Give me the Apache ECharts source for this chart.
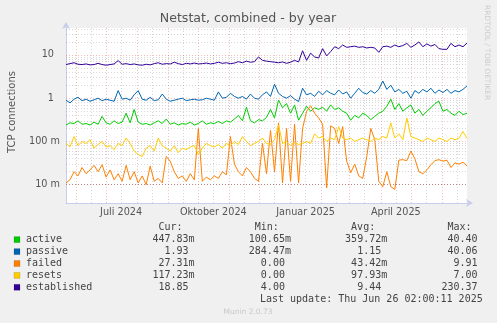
<!DOCTYPE html>
<html><head><meta charset="utf-8">
<script src="https://cdn.jsdelivr.net/npm/echarts@6/dist/echarts.min.js"></script>
<style>html,body{margin:0;padding:0;background:#f0f0f0}#c{width:497px;height:323px}</style>
</head><body><div id="c"></div>
<script>
// ---- data (one sample every 4 days, 2024-05-22 .. 2025-06-26) ----
const seriesNames = ['active','passive','failed','resets','established'];
const seriesColors = ['#00CC00','#0066B3','#FF8000','#FFCC00','#330099'];
const active = [0.24,0.27,0.26,0.3,0.25,0.26,0.24,0.28,0.25,0.38,0.27,0.25,0.3,0.26,0.28,0.45,0.27,0.55,0.28,0.25,
0.26,0.24,0.27,0.3,0.26,0.33,0.25,0.27,0.24,0.26,0.25,0.28,0.24,0.26,0.3,0.25,0.27,0.26,0.29,0.26,
0.3,0.28,0.33,0.4,0.3,0.62,0.3,0.27,0.32,0.3,0.36,0.55,0.35,0.9,0.6,0.75,0.45,0.7,0.31,0.45,
0.65,0.5,0.6,0.55,0.62,0.5,0.7,0.55,0.6,0.5,0.45,0.31,0.4,0.35,0.45,0.4,0.32,0.38,0.45,0.5,
0.65,0.95,0.55,0.75,0.5,0.6,0.7,0.45,0.55,0.4,0.5,0.6,0.75,0.85,0.5,0.55,0.45,0.4,0.5,0.42,0.448];
const passive = [0.9,0.78,0.95,1.05,0.88,0.95,0.85,0.92,1.0,0.88,0.95,0.9,0.85,1.5,0.95,1.0,0.9,1.2,1.5,0.95,
0.9,1.05,0.88,0.92,1.25,0.95,0.85,0.9,0.95,1.0,0.88,0.92,0.95,0.9,0.92,1.0,0.95,0.9,1.4,1.0,
1.05,1.3,1.1,1.0,1.1,0.95,1.25,1.0,0.95,1.2,1.4,1.1,2.1,1.3,1.1,1.0,1.15,0.95,0.84,1.7,
1.2,1.3,1.1,1.45,1.2,1.5,1.3,1.2,1.55,1.25,1.4,1.0,1.3,1.7,1.35,1.25,1.5,1.3,1.6,2.5,
1.6,2.0,1.4,1.6,1.3,1.45,1.0,1.5,1.3,1.6,1.4,1.7,1.3,1.55,1.35,1.6,1.3,1.5,1.4,1.6,1.93];
const failed = [0.011,0.013,0.02,0.016,0.025,0.018,0.022,0.028,0.02,0.029,0.015,0.022,0.013,0.018,0.012,0.028,0.013,0.02,0.011,0.016,
0.01,0.027,0.012,0.014,0.011,0.045,0.035,0.02,0.014,0.016,0.012,0.018,0.013,0.2,0.012,0.015,0.013,0.016,0.014,0.02,
0.017,0.13,0.03,0.02,0.016,0.025,0.02,0.014,0.012,0.09,0.018,0.18,0.02,0.27,0.011,0.2,0.012,0.25,0.011,0.2,
0.5,0.67,0.45,0.35,0.25,0.0084,0.23,0.2,0.09,0.22,0.035,0.019,0.03,0.016,0.014,0.045,0.2,0.11,0.012,0.009,
0.02,0.009,0.0078,0.037,0.038,0.036,0.06,0.04,0.02,0.018,0.022,0.029,0.036,0.038,0.035,0.037,0.025,0.032,0.03,0.033,0.0273];
const resets = [0.09,0.075,0.13,0.08,0.1,0.09,0.11,0.07,0.085,0.1,0.075,0.08,0.065,0.09,0.08,0.12,0.09,0.06,0.05,0.045,
0.07,0.08,0.06,0.12,0.08,0.07,0.06,0.08,0.055,0.07,0.065,0.075,0.08,0.05,0.07,0.09,0.08,0.075,0.085,0.07,
0.09,0.08,0.1,0.085,0.13,0.1,0.08,0.09,0.1,0.12,0.09,0.085,0.11,0.24,0.09,0.1,0.08,0.095,0.085,0.09,
0.1,0.09,0.15,0.12,0.13,0.1,0.12,0.11,0.22,0.12,0.11,0.12,0.1,0.11,0.12,0.11,0.1,0.12,0.11,0.13,
0.12,0.27,0.12,0.15,0.11,0.35,0.13,0.12,0.11,0.1,0.12,0.11,0.1,0.12,0.11,0.1,0.12,0.11,0.12,0.17,0.117];
const established = [6.0,6.3,6.6,6.1,6.0,6.2,5.9,6.0,6.4,6.0,5.8,6.0,6.2,7.4,6.1,6.3,6.0,6.2,5.9,5.8,
6.1,5.9,6.3,6.6,6.1,6.3,6.2,6.8,6.3,6.0,6.4,6.2,6.5,6.2,6.3,6.5,6.2,6.4,6.8,6.4,
6.6,6.3,6.5,7.0,6.6,7.2,6.8,7.0,9.0,7.5,7.2,7.0,6.8,6.6,6.9,6.4,6.8,7.5,6.9,12.5,
7.5,11.0,9.0,8.5,14.0,9.5,12.0,15.5,14.0,17.0,15.0,15.5,16.0,15.0,15.5,14.5,15.0,14.5,11.5,15.5,
16.0,15.0,17.0,15.5,16.5,18.5,15.0,17.0,20.0,15.5,18.0,16.0,17.5,14.0,13.5,13.5,18.5,15.5,17.0,15.5,18.85];
const allValues = [active, passive, failed, resets, established];

// legend table
const colHeaders = ['Cur:','Min:','Avg:','Max:'];
const statCur = ['447.83m','1.93','27.31m','117.23m','18.85'];
const statMin = ['100.65m','284.47m','0.00','0.00','4.00'];
const statAvg = ['359.72m','1.15','43.42m','97.93m','9.44'];
const statMax = ['40.40','40.06','9.91','7.00','230.37'];
const stats = [statCur, statMin, statAvg, statMax];

// axis labels
const xLabelDates = ['2024-07-16','2024-10-16','2025-01-16','2025-04-16'];
const xLabelTexts = ['Juli 2024','Oktober 2024','Januar 2025','April 2025'];
const yTickExp = [-2,-1,0,1];
const yTickTexts = ['10 m','100 m','1','10'];

const title = 'Netstat, combined - by year';
const yName = 'TCP connections';
const lastUpdate = 'Last update: Thu Jun 26 02:00:11 2025';
const footer = 'Munin 2.0.73';
const sideText = 'RRDTOOL / TOBI OETIKER';

// ---- build ----
const DAY = 86400000;
const tStart = Date.UTC(2024,4,22);
const tEnd = Date.UTC(2025,5,26);
const STEP = 4;
const toTs = s => { const p = s.split('-').map(Number); return Date.UTC(p[0], p[1]-1, p[2]); };
const xLabelTs = xLabelDates.map(toTs);

// grid lines
const major = {color:'rgba(230,100,100,0.42)', type:[1,2], width:1};
const minor = {color:'rgba(150,150,150,0.38)', type:[1,2], width:1};
const gridMarks = [];
for (let m = 0; m < 13; m++) {
  const y = 2024 + Math.floor((5 + m) / 12), mo = (5 + m) % 12;
  gridMarks.push({xAxis: Date.UTC(y, mo, 1), lineStyle: major});
  const mid = Date.UTC(y, mo, 16);
  if (mid < tEnd) gridMarks.push({xAxis: mid, lineStyle: minor});
}
for (let e = -3; e <= 1; e++) {
  for (let k = 1; k <= 9; k++) {
    const v = k * Math.pow(10, e);
    if (v < 0.00378 || v > 42) continue;
    gridMarks.push({yAxis: v, lineStyle: k === 1 ? major : minor});
  }
}

const series = [{
  type:'line', data:[], z:1, silent:true,
  markLine:{silent:true, symbol:'none', z:1, animation:false, label:{show:false}, data:gridMarks}
}];
seriesNames.forEach((n, si) => {
  series.push({
    name:n, type:'line', z:3 + si, showSymbol:false, symbol:'none', silent:true,
    lineStyle:{color:seriesColors[si], width:1}, itemStyle:{color:seriesColors[si]},
    data: allValues[si].map((v, i) => [tStart + i * STEP * DAY, v])
  });
});

const axisCol = '#c7cdea';
const mono = '10px "DejaVu Sans Mono"';
const graphic = [];
graphic.push({type:'text', x:248, y:19, style:{text:title, font:'12.6px "DejaVu Sans"', fill:'#555', align:'center', verticalAlign:'middle'}});
graphic.push({type:'text', x:12, y:112, rotation:Math.PI/2, style:{text:yName, font:'10px "DejaVu Sans"', fill:'#555', align:'center', verticalAlign:'middle'}});
graphic.push({type:'text', x:487, y:5, rotation:-Math.PI/2, style:{text:sideText, font:'7.4px "DejaVu Sans"', fill:'#cccccc', align:'left', verticalAlign:'middle'}});
const colStart = [152.5, 248.8, 345.1, 441.4];
const rowY = [239.6, 251.6, 263.5, 275.4, 287.3];
colHeaders.forEach((h, c) => graphic.push({type:'text', x:colStart[c] + 6, y:227, style:{text:h, font:mono, fill:'#444', verticalAlign:'middle'}}));
seriesNames.forEach((n, r) => {
  graphic.push({type:'rect', x:14, y:rowY[r] - 3, shape:{width:6, height:6}, style:{fill:seriesColors[r], stroke:'rgba(0,0,0,0.25)', lineWidth:0.5}});
  graphic.push({type:'text', x:26, y:rowY[r], style:{text:n, font:mono, fill:'#444', verticalAlign:'middle'}});
  stats.forEach((col, c) => {
    let s = col[r];
    if (!/[a-zA-Z]$/.test(s)) s = s + ' ';
    s = s.padStart(7, ' ');
    graphic.push({type:'text', x:colStart[c], y:rowY[r], style:{text:s, font:mono, fill:'#444', verticalAlign:'middle'}});
  });
});
graphic.push({type:'text', x:482.7, y:299.5, style:{text:lastUpdate, font:mono, fill:'#444', align:'right', verticalAlign:'middle'}});
graphic.push({type:'text', x:248, y:311.8, style:{text:footer, font:'7.5px "DejaVu Sans"', fill:'#c8c8c8', align:'center', verticalAlign:'middle'}});

const chart = echarts.init(document.getElementById('c'), null, {renderer:'canvas'});
chart.setOption({
  animation:false,
  backgroundColor:'#f0f0f0',
  grid:{left:66, right:30, top:28, bottom:120, show:true, backgroundColor:'#ffffff', borderWidth:0},
  xAxis:{
    type:'value', min:tStart, max:tEnd, scale:true,
    axisLine:{show:true, lineStyle:{color:axisCol, width:1}, symbol:['none','arrow'], symbolSize:[6,7], symbolOffset:[0,6]},
    axisTick:{show:false}, splitLine:{show:false},
    axisLabel:{
      customValues: xLabelTs,
      formatter: v => { const i = xLabelTs.indexOf(v); return i >= 0 ? xLabelTexts[i] : ''; },
      color:'#555', fontSize:9.7, fontFamily:'DejaVu Sans', margin:4, hideOverlap:false
    }
  },
  yAxis:{
    type:'log', logBase:10, min:0.00378, max:42,
    axisLine:{show:true, lineStyle:{color:axisCol, width:1}, symbol:['none','arrow'], symbolSize:[6,7], symbolOffset:[0,6]},
    axisTick:{show:false}, splitLine:{show:false},
    axisLabel:{
      showMinLabel:false, showMaxLabel:false, margin:6,
      color:'#555', fontSize:9.7, fontFamily:'DejaVu Sans',
      formatter: v => {
        const e = Math.round(Math.log10(v));
        const i = yTickExp.indexOf(e);
        if (i < 0 || Math.abs(Math.log10(v) - e) > 0.01) return '';
        const t = yTickTexts[i];
        return t.indexOf(' ') >= 0 ? t : '{p|' + t + '}';
      },
      rich:{p:{padding:[0,6,0,0], fontSize:9.7, fontFamily:'DejaVu Sans', color:'#555'}}
    }
  },
  series: series,
  graphic: graphic
});
</script>
</body></html>
